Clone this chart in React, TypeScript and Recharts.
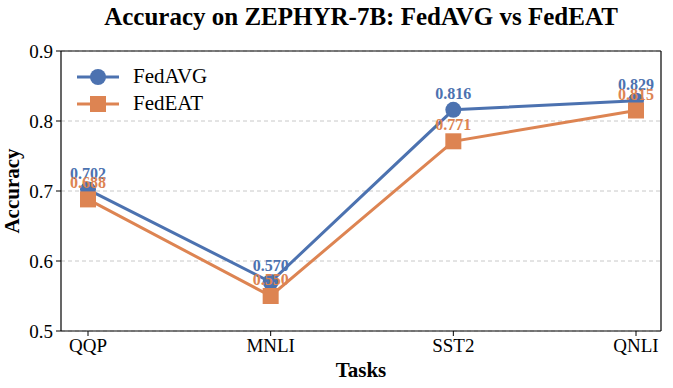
import React from 'react';
import { LineChart, Line, XAxis, YAxis, CartesianGrid, Legend, LabelList } from 'recharts';

const tasks = ['QQP', 'MNLI', 'SST2', 'QNLI'];
const fedAvg = [0.702, 0.57, 0.816, 0.829];
const fedEat = [0.688, 0.55, 0.771, 0.815];
const yTicks = [0.5, 0.6, 0.7, 0.8, 0.9];

const data = tasks.map((t, i) => ({ task: t, FedAVG: fedAvg[i], FedEAT: fedEat[i] }));

const BLUE = '#4C72B0';
const ORANGE = '#DD8452';
const FONT = '"Liberation Serif", "Times New Roman", serif';

const SquareDot = (props: any) => {
  const { cx, cy } = props;
  if (cx == null || cy == null) return null;
  return <rect x={cx - 8} y={cy - 8} width={16} height={16} fill={ORANGE} />;
};

const LegendContent = () => {
  const items = [
    { name: 'FedAVG', color: BLUE, shape: 'circle' },
    { name: 'FedEAT', color: ORANGE, shape: 'square' },
  ];
  return (
    <div style={{ fontFamily: FONT, fontSize: 21 }}>
      {items.map((it) => (
        <div key={it.name} style={{ display: 'flex', alignItems: 'center', height: 27 }}>
          <svg width={42} height={20} style={{ marginRight: 14 }}>
            <line x1={0} y1={10} x2={42} y2={10} stroke={it.color} strokeWidth={3} />
            {it.shape === 'circle' ? (
              <circle cx={21} cy={10} r={8} fill={it.color} />
            ) : (
              <rect x={13} y={2} width={16} height={16} fill={it.color} />
            )}
          </svg>
          <span style={{ color: '#000' }}>{it.name}</span>
        </div>
      ))}
    </div>
  );
};

export default function App() {
  return (
    <div style={{ position: 'absolute', left: 0, top: 0, width: 673, height: 388, background: '#fff' }}>
      <div
        style={{
          position: 'absolute',
          left: 0,
          width: 722,
          top: 2,
          textAlign: 'center',
          fontFamily: FONT,
          fontWeight: 'bold',
          fontSize: 25,
          lineHeight: '30px',
        }}
      >
        Accuracy on ZEPHYR-7B: FedAVG vs FedEAT
      </div>
      <LineChart width={673} height={388} data={data} margin={{ top: 50, right: 11, bottom: 7, left: 0 }}>
        <CartesianGrid vertical={false} stroke="#c8c8c8" strokeDasharray="4 3" />
        <XAxis
          dataKey="task"
          padding={{ left: 27, right: 25 }}
          height={50}
          tickSize={5}
          tickMargin={3}
          stroke="#000"
          tick={{ fill: '#000', fontFamily: FONT, fontSize: 19 }}
          axisLine={{ stroke: '#000', strokeWidth: 1.2 }}
          label={{ value: 'Tasks', position: 'insideBottom', offset: 4, fill: '#000', fontFamily: FONT, fontSize: 21, fontWeight: 'bold' }}
        />
        <XAxis
          xAxisId="top"
          dataKey="task"
          orientation="top"
          height={1}
          tick={false}
          tickLine={false}
          padding={{ left: 27, right: 25 }}
          axisLine={{ stroke: '#000', strokeWidth: 1.2 }}
        />
        <YAxis
          domain={[0.5, 0.9]}
          ticks={yTicks}
          width={61}
          tickSize={5}
          tickMargin={3}
          stroke="#000"
          tickFormatter={(v: number) => v.toFixed(1)}
          tick={{ fill: '#000', fontFamily: FONT, fontSize: 19 }}
          axisLine={{ stroke: '#000', strokeWidth: 1.2 }}
          label={{ value: 'Accuracy', angle: -90, position: 'insideLeft', offset: 12, style: { textAnchor: 'middle' }, fill: '#000', fontFamily: FONT, fontSize: 21, fontWeight: 'bold' }}
        />
        <YAxis
          yAxisId="right"
          orientation="right"
          width={1}
          domain={[0.5, 0.9]}
          tick={false}
          tickLine={false}
          axisLine={{ stroke: '#000', strokeWidth: 1.2 }}
        />
        <Legend
          layout="vertical"
          verticalAlign="middle"
          align="center"
          content={<LegendContent />}
          wrapperStyle={{ left: 77, top: 63, width: 160 }}
        />
        <Line
          type="linear"
          dataKey="FedAVG"
          stroke={BLUE}
          strokeWidth={3}
          dot={{ r: 8, fill: BLUE, stroke: BLUE, strokeWidth: 0 }}
          activeDot={false}
          isAnimationActive={false}
        >
          <LabelList dataKey="FedAVG" position="top" offset={11} formatter={(v: number) => v.toFixed(3)} style={{ fill: BLUE, fontFamily: FONT, fontSize: 16, fontWeight: 'bold' }} />
        </Line>
        <Line
          type="linear"
          dataKey="FedEAT"
          stroke={ORANGE}
          strokeWidth={3}
          dot={<SquareDot />}
          activeDot={false}
          isAnimationActive={false}
        >
          <LabelList dataKey="FedEAT" position="top" offset={11} formatter={(v: number) => v.toFixed(3)} style={{ fill: ORANGE, fontFamily: FONT, fontSize: 16, fontWeight: 'bold' }} />
        </Line>
      </LineChart>
    </div>
  );
}
